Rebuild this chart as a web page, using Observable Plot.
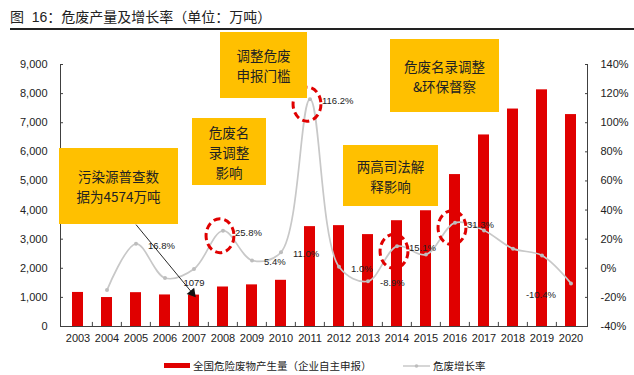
<!DOCTYPE html>
<html><head><meta charset="utf-8">
<script src="https://cdn.jsdelivr.net/npm/d3@7"></script>
<script src="https://cdn.jsdelivr.net/npm/@observablehq/plot@0.6"></script>
<style>
body{margin:0;background:#fff;}
#wrap{position:relative;width:634px;height:375px;overflow:hidden;font-family:"Liberation Sans","Noto Sans CJK SC",sans-serif;color:#222}
#chart{position:absolute;left:0;top:0}
#title{position:absolute;left:10px;top:8px;font-size:14px;white-space:pre;line-height:18px}
#hr{position:absolute;left:10px;right:0;top:28px;border-top:2px solid #222}
.box{position:absolute;background:#FFC000;display:flex;flex-direction:column;align-items:center;justify-content:center;text-align:center;font-size:13.5px;color:#222;font-family:"Noto Sans CJK SC","Liberation Sans",sans-serif}
.box span{display:block;line-height:20px;height:20px;white-space:nowrap}
.lg{position:absolute;font-size:10.5px;line-height:12px;white-space:nowrap}
</style></head>
<body>
<div id="wrap">
  <div id="chart"></div>
  <div id="title">图  16：危废产量及增长率（单位：万吨）</div>
  <div id="hr"></div>
  <div class="box" style="left:59px;top:148px;width:119px;height:76px"><span>污染源普查数</span><span>据为4574万吨</span></div>
  <div class="box" style="left:192px;top:118px;width:74px;height:67px"><span>危废名</span><span>录调整</span><span>影响</span></div>
  <div class="box" style="left:220px;top:32px;width:87px;height:66px"><span>调整危废</span><span>申报门槛</span></div>
  <div class="box" style="left:390px;top:39px;width:109px;height:73px"><span>危废名录调整</span><span>&amp;环保督察</span></div>
  <div class="box" style="left:343px;top:145px;width:95px;height:61px"><span>两高司法解</span><span>释影响</span></div>
  <div style="position:absolute;left:164px;top:363px;width:26px;height:5px;background:#e00000"></div>
  <div class="lg" style="left:193px;top:360px">全国危险废物产生量（企业自主申报）</div>
  <svg style="position:absolute;left:403px;top:361px" width="28" height="10"><line x1="0" y1="5" x2="27" y2="5" stroke="#c8c8c8" stroke-width="1.5"/><circle cx="13.5" cy="5" r="1.8" fill="#bdbdbd"/></svg>
  <div class="lg" style="left:433px;top:360px">危废增长率</div>
</div>
<script>
const years = ["2003","2004","2005","2006","2007","2008","2009","2010","2011","2012","2013","2014","2015","2016","2017","2018","2019","2020"];
const output = [1170, 995, 1162, 1084, 1079, 1357, 1430, 1587, 3431, 3465, 3157, 3634, 3976, 5219, 6580, 7470, 8130, 7280];
const growth = [null, -15.0, 16.8, -6.7, -0.5, 25.8, 5.4, 11.0, 116.2, 1.0, -8.9, 15.1, 9.4, 31.3, 26.0, 13.5, 8.8, -10.4];
const labeledYears = ["2005","2008","2009","2010","2011","2012","2013","2014","2016"];
const leftLabelYears = ["2020"];
const circledYears = ["2008","2011","2014","2016"];
const valueLabelYears = ["2007"];
const leftTicks = [0,1000,2000,3000,4000,5000,6000,7000,8000,9000];
const rightTicks = [-40,-20,0,20,40,60,80,100,120,140];
const arrowNote = [{fromYear:"2005", fromValue:3500, toYear:"2007"}];

const yMax = 9000, rMin = -40, rMax = 140;
const toLeft = g => (g - rMin) / (rMax - rMin) * yMax;
const fromLeft = v => v / yMax * (rMax - rMin) + rMin;
const rows = years.map((year, i) => ({year, output: output[i], growth: growth[i], gy: growth[i] == null ? null : toLeft(growth[i])}));
const lineRows = rows.filter(d => d.growth != null);
const outByYear = Object.fromEntries(rows.map(d => [d.year, d.output]));
arrowNote.forEach(d => d.toValue = outByYear[d.toYear]);

const W = 634, H = 375, mL = 60, mR = 47, mT = 64, mB = 49;
const step = (W - mL - mR) / years.length;
const px = yr => mL + (years.indexOf(yr) + 0.5) * step;
const py = v => H - mB - v / yMax * (H - mT - mB);
const a0 = arrowNote[0];
const ax = px(a0.toYear) - px(a0.fromYear), ay = py(a0.toValue) - py(a0.fromValue);
const ang = Math.atan2(ay, ax);
const triR = 3.6, triTip = 2 * Math.sqrt(Math.PI * triR * triR / (Math.sqrt(3) * 3));
const K = 0.5523;
const ellipse = {draw(ctx, size) {
  const r = Math.sqrt(size / Math.PI), rx = r * 0.82, ry = r;
  ctx.moveTo(rx, 0);
  ctx.bezierCurveTo(rx, ry*K, rx*K, ry, 0, ry);
  ctx.bezierCurveTo(-rx*K, ry, -rx, ry*K, -rx, 0);
  ctx.bezierCurveTo(-rx, -ry*K, -rx*K, -ry, 0, -ry);
  ctx.bezierCurveTo(rx*K, -ry, rx, -ry*K, rx, 0);
  ctx.closePath();
}};

const plot = Plot.plot({
  width: W, height: H,
  marginLeft: mL, marginRight: mR, marginTop: mT, marginBottom: mB,
  style: {fontFamily: '"Liberation Sans","Noto Sans CJK SC",sans-serif', fontSize: "11px", color: "#222", background: "transparent", overflow: "visible"},
  x: {type: "band", domain: years, paddingInner: 0.625, paddingOuter: 0.3125, label: null},
  y: {domain: [0, yMax], label: null},
  marks: [
    Plot.barY(rows, {x: "year", y: "output", fill: "#e00000"}),
    Plot.ruleX(years.slice(1), {x: d => d, y1: 0, y2: 140, dx: -step / 2, stroke: "#404040"}),
    Plot.frame({anchor: "left", stroke: "#404040"}),
    Plot.frame({anchor: "right", stroke: "#404040"}),
    Plot.frame({anchor: "bottom", stroke: "#404040"}),
    Plot.axisX({tickSize: 0, tickPadding: 8, label: null}),
    Plot.axisY(leftTicks, {anchor: "left", tickSize: -3, tickPadding: 16, tickFormat: d3.format(","), label: null, stroke: "#404040"}),
    Plot.axisY(rightTicks.map(toLeft), {anchor: "right", tickSize: -3, tickPadding: 16, tickFormat: v => Math.round(fromLeft(v)) + "%", label: null, stroke: "#404040"}),
    Plot.line(lineRows, {x: "year", y: "gy", curve: "catmull-rom", stroke: "#c8c8c8", strokeWidth: 1.7}),
    Plot.dot(lineRows, {x: "year", y: "gy", r: 2, fill: "#bdbdbd"}),
    Plot.text(lineRows.filter(d => labeledYears.includes(d.year)), {x: "year", y: "gy", text: d => d.growth.toFixed(1) + "%", textAnchor: "start", dx: 12, dy: 2, fontSize: 9.5}),
    Plot.text(lineRows.filter(d => leftLabelYears.includes(d.year)), {x: "year", y: "gy", text: d => d.growth.toFixed(1) + "%", textAnchor: "end", dx: -15, dy: 12, fontSize: 9.5}),
    Plot.text(rows.filter(d => valueLabelYears.includes(d.year)), {x: "year", y: "output", text: d => String(d.output), dy: -12, fontSize: 9.5}),
    Plot.dot(lineRows.filter(d => circledYears.includes(d.year)), {x: "year", y: "gy", symbol: ellipse, r: 17, fill: "none", stroke: "#e00000", strokeWidth: 3, strokeDasharray: "7,4", dx: -3, dy: 5}),
    Plot.link(arrowNote, {x1: "fromYear", y1: "fromValue", x2: "toYear", y2: "toValue", stroke: "#111", strokeWidth: 0.9}),
    Plot.dot(arrowNote, {x: "toYear", y: "toValue", symbol: "triangle", r: triR, fill: "#111", stroke: "none",
      rotate: 90 + ang * 180 / Math.PI, dx: -Math.cos(ang) * triTip / 2, dy: -Math.sin(ang) * triTip / 2})
  ]
});
document.getElementById("chart").appendChild(plot);
</script>
</body></html>
